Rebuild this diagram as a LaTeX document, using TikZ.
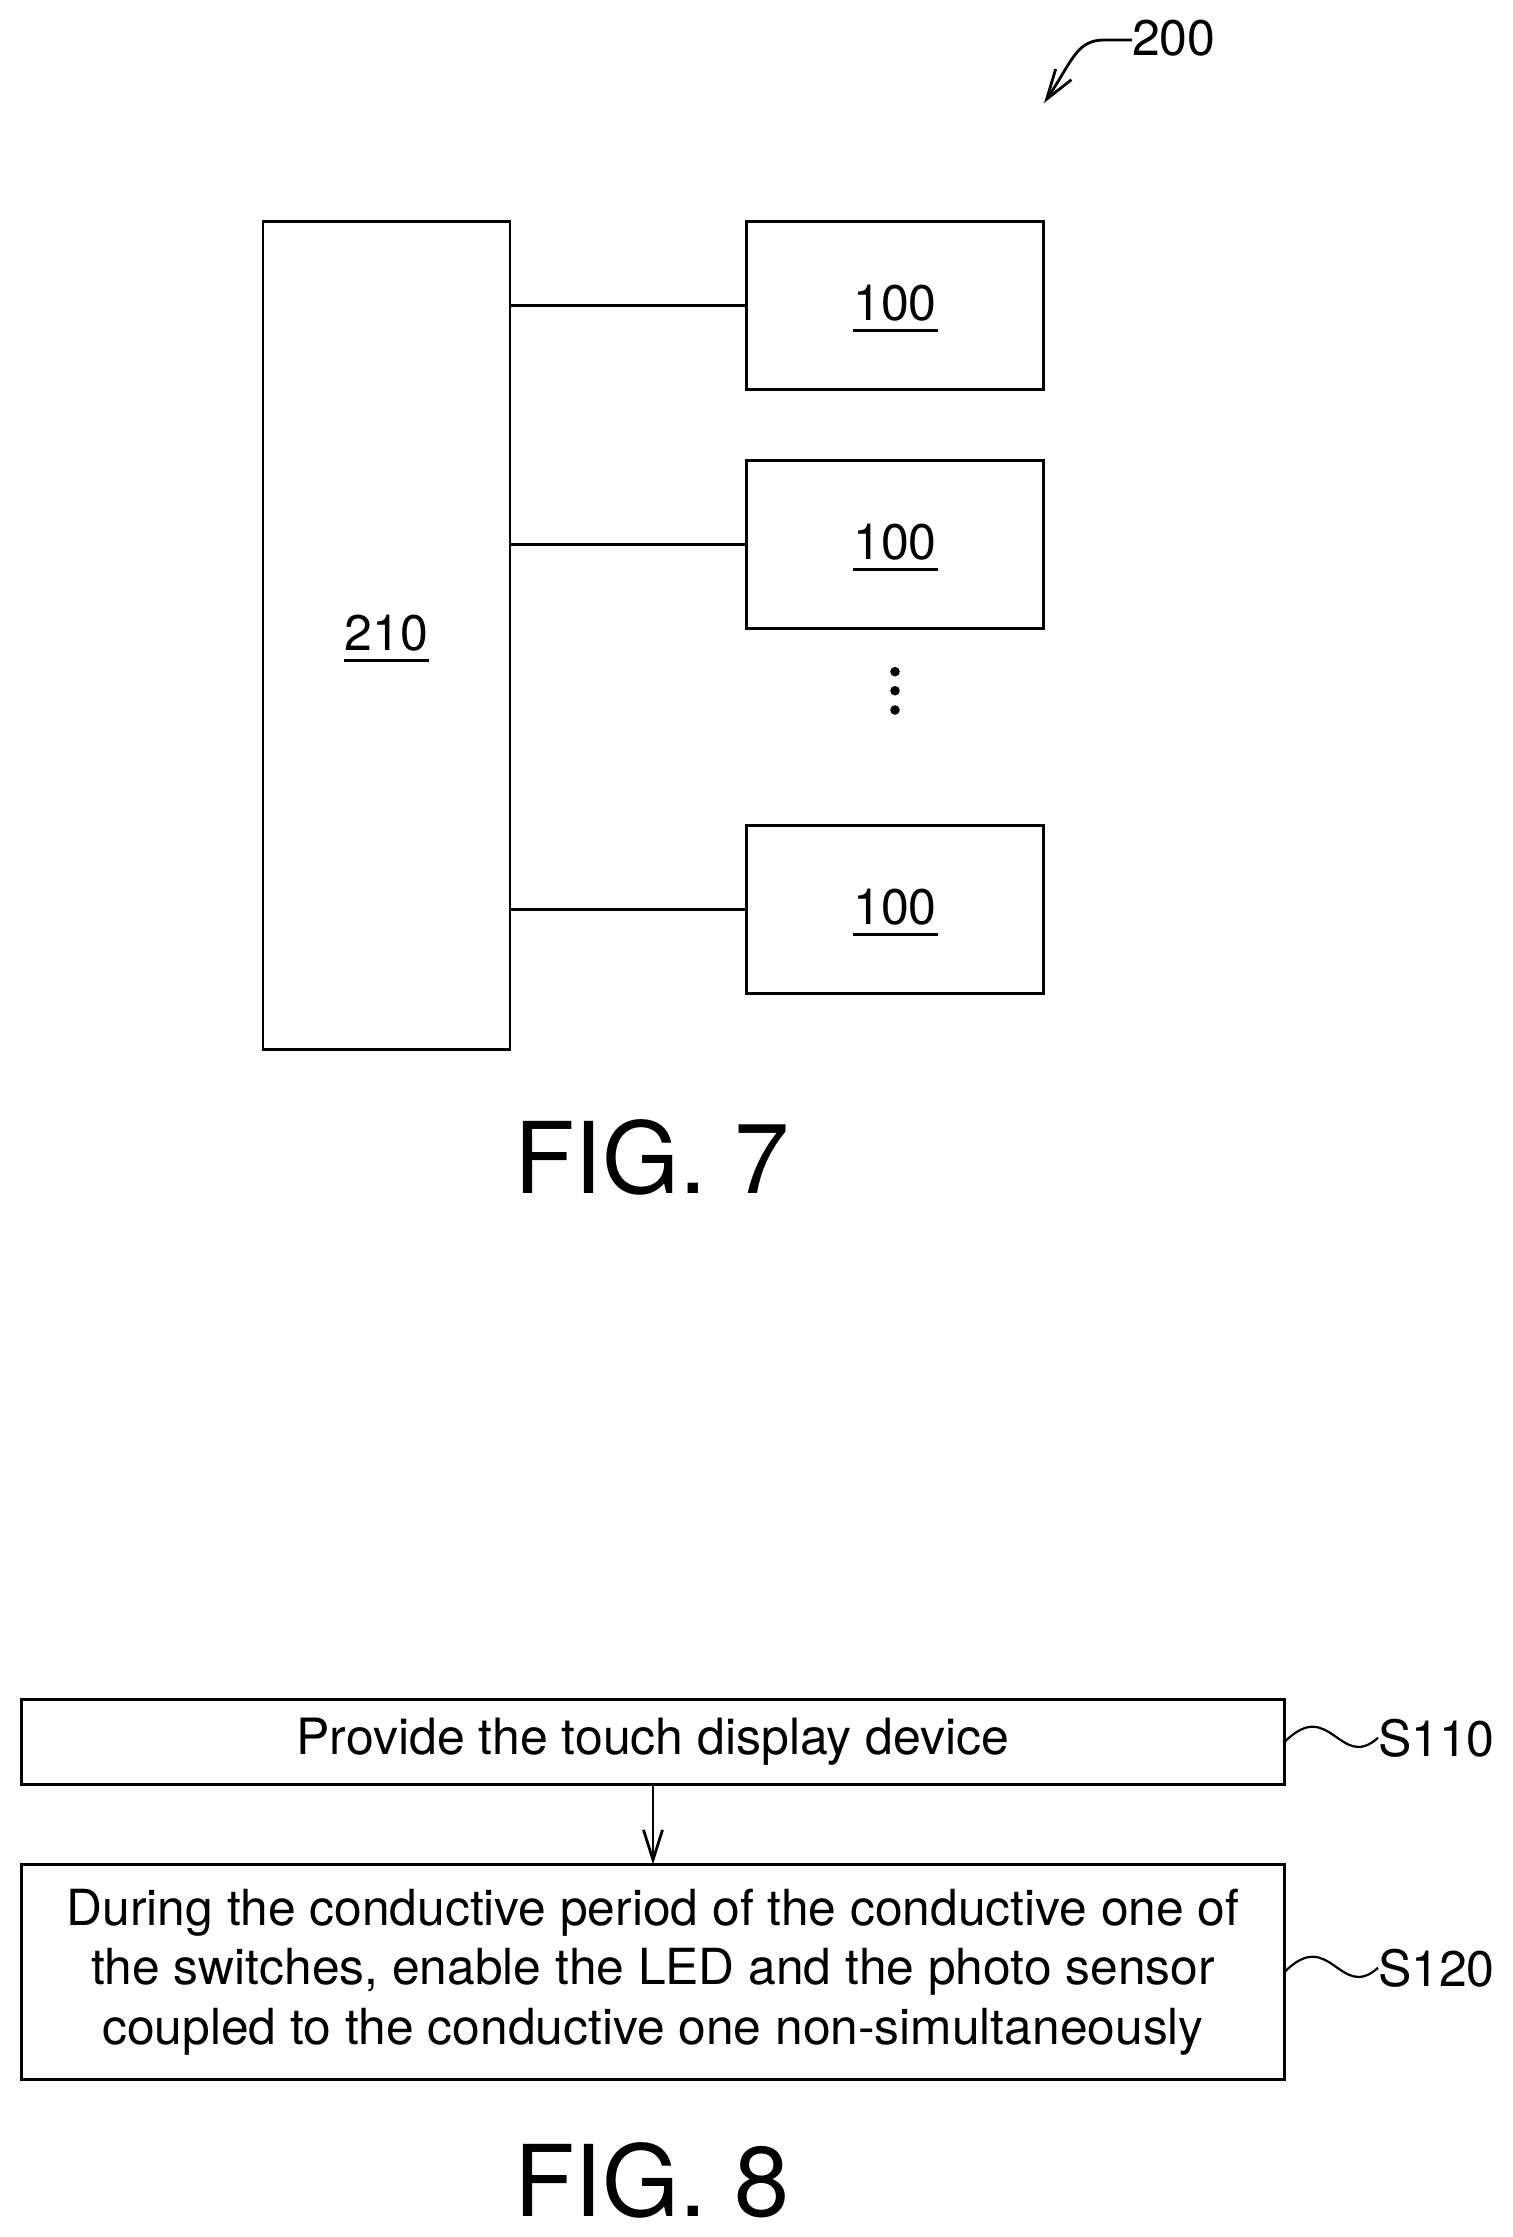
\documentclass[tikz,border=0pt]{standalone}
\usepackage{fontspec}
\setmainfont{TeX Gyre Heros}
\usetikzlibrary{arrows.meta}
\newcommand{\mytikzlabelfontsize}{\fontsize{25}{29.7}\selectfont}
\newcommand{\mytikzstepfontsize}{\fontsize{24.87}{29.7}\selectfont}
\newcommand{\mytikztitlefontsize}{\fontsize{49.5}{55}\selectfont}
\newcommand{\blocknode}[1][]{\node[draw,rectangle,#1]}
\newcommand{\refunderlined}[1]{\makebox[42.5pt][c]{#1}\llap{\smash{\rule[-5.8pt]{42.5pt}{1.4pt}}}}
\tikzstyle{mytikzblockoptions}=[
    x=0.5pt,
    y=-0.5pt,
    line width=1.4pt,
    every path/.append style={>={Straight Barb[length=15pt,width=9.5pt]}},
    every node/.append style={inner sep=0pt,outer sep=0pt},
    font=\mytikzlabelfontsize
]
\tikzstyle{smallbox}=[
    minimum width=148.5pt,
    minimum height=84pt,
    text depth=3pt
]
\tikzstyle{stepline}=[
    minimum width=631.5pt,
    align=center
]
\tikzstyle{tag}=[
    anchor=base west
]
\tikzstyle{dotnode}=[
    circle,
    fill=black,
    minimum size=4.8pt
]

\begin{document}
\begin{tikzpicture}[mytikzblockoptions]
    \useasboundingbox (0,0) rectangle (1512,2237);

    % nodes
    \blocknode[minimum width=123.5pt,minimum height=414pt,text depth=3pt] (ctrl) at (386.5,635.5) {\refunderlined{210}};
    \blocknode[smallbox] (unit1) at (895,305.5) {\refunderlined{100}};
    \blocknode[smallbox] (unit2) at (895,544.5) {\refunderlined{100}};
    \blocknode[smallbox] (unit3) at (895,909.5) {\refunderlined{100}};
    \foreach \n/\y in {1/671.7,2/690.7,3/710} {
        \node[dotnode] (dot\n) at (895,\y) {};
    }
    \node[tag] (devtag) at (1132,56) {200};
    \coordinate (devtip) at (1044,103);
    \node[font=\mytikztitlefontsize,anchor=base] (fig7) at (652,1193) {FIG. 7};

    \blocknode[stepline,minimum height=42.5pt,text depth=6pt] (s110) at (653,1742) {Provide the touch display device};
    \blocknode[stepline,minimum height=107.5pt,font=\mytikzstepfontsize] (s120) at (653,1972) {During the conductive period of the conductive one of\\the switches, enable the LED and the photo sensor\\coupled to the conductive one non-simultaneously};
    \node[tag] (s110tag) at (1378,1756) {S110};
    \node[tag] (s120tag) at (1378,1986) {S120};
    \node[font=\mytikztitlefontsize,anchor=base] (fig8) at (652,2216) {FIG. 8};

    % edges
    \draw (ctrl.east |- unit1.west) -- (unit1.west);
    \draw (ctrl.east |- unit2.west) -- (unit2.west);
    \draw (ctrl.east |- unit3.west) -- (unit3.west);
    \draw[->] (s110.south) -- (s120.north);
    \draw[->] (devtag.west |- 0,40) -- ++(-28,0) .. controls (1076,40) and (1072,62) .. (devtip);
    \draw[line width=1.1pt] (s110.east) .. controls (1330,1696) and (1340,1772) .. (s110tag.west);
    \draw[line width=1.1pt] (s120.east) .. controls (1330,1926) and (1340,2002) .. (s120tag.west);
\end{tikzpicture}
\end{document}
